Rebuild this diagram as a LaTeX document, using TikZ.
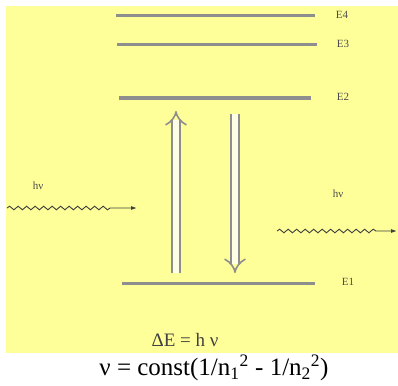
\documentclass[tikz,border=0pt]{standalone}
\usepackage{fontspec}
\setmainfont{Liberation Serif}
\usetikzlibrary{arrows.meta,decorations.pathmorphing}
\definecolor{paper}{HTML}{FFFF99}
\definecolor{rule}{HTML}{8E8E8E}

\begin{document}
\begin{tikzpicture}[x=1pt,y=-1pt,
 level/.style={draw=rule,line width=3pt},
 lbl/.style={font=\fontsize{11}{11}\selectfont,text=black!70,inner sep=0pt},
 trans/.style={draw=rule,line width=1.6pt,double=paper!25!white,double distance=6pt,-{Implies}},
 photon/.style={draw=black!75,line width=0.9pt,decorate,
 decoration={snake,amplitude=1.8pt,segment length=8.5pt,post length=#1},-{Latex[length=6pt,width=4pt]}}]
\useasboundingbox (0,0) rectangle (398,385);
\fill[paper] (6,6) rectangle (398,353);
% energy levels
\coordinate (e4l) at (116,16);  \coordinate (e4r) at (315,16);
\coordinate (e3l) at (117,45);  \coordinate (e3r) at (317,45);
\coordinate (e2l) at (119,98);  \coordinate (e2r) at (311,98);
\coordinate (e1l) at (122,283); \coordinate (e1r) at (315,283);
\draw[level] (e4l) -- (e4r);
\draw[level] (e3l) -- (e3r);
\draw[level] (e2l) -- (e2r);
\draw[level] (e1l) -- (e1r);
\node[lbl] (e4) at (342,15) {E4};
\node[lbl] (e3) at (343,44) {E3};
\node[lbl] (e2) at (343,97) {E2};
\node[lbl] (e1) at (348,282) {E1};
% transitions
\coordinate (upa) at (176,273); \coordinate (upb) at (176,111);
\coordinate (dna) at (235,114); \coordinate (dnb) at (235,273);
\draw[trans] (upa) -- (upb);
\draw[trans] (dna) -- (dnb);
% photons
\coordinate (ina) at (7,208);   \coordinate (inb) at (137,208);
\coordinate (outa) at (277,231); \coordinate (outb) at (397,231);
\draw[photon=26pt] (ina) -- (inb);
\draw[photon=17pt] (outa) -- (outb);
\node[lbl] (hvin) at (38,186) {hν};
\node[lbl] (hvout) at (338,194) {hν};
% relations
\node[font=\fontsize{19}{19}\selectfont,text=black!75,inner sep=0pt] (de) at (185,340) {ΔE = h ν};
\node[font=\fontsize{25}{25}\selectfont,inner sep=0pt] (nu) at (214,368)
 {ν = const(1/n\textsubscript{1}\textsuperscript{2} - 1/n\textsubscript{2}\textsuperscript{2})};
\end{tikzpicture}
\end{document}
